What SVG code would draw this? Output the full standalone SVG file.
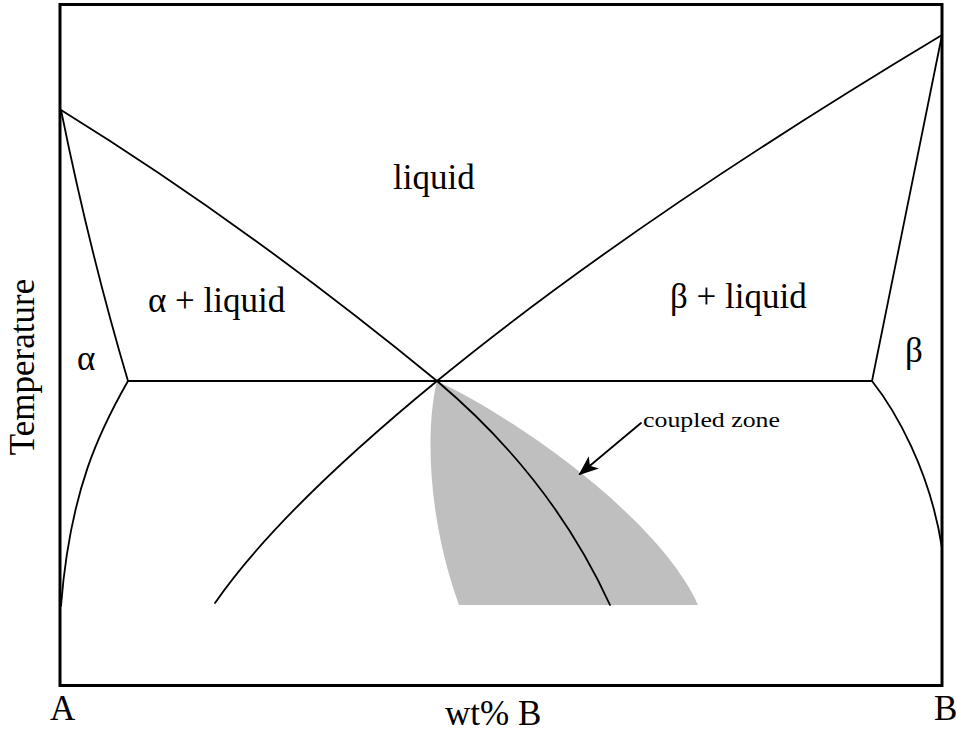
<svg xmlns="http://www.w3.org/2000/svg" width="956" height="732" viewBox="0 0 956 732">
<style>
  .ln { fill: none; stroke: #000; stroke-width: 1.8; stroke-linecap: round; stroke-linejoin: round; }
  .lbl { font-family: "Liberation Serif", "Times New Roman", serif; font-size: 35px; fill: #000; }
  .small { font-family: "Liberation Serif", "Times New Roman", serif; font-size: 22px; fill: #000; }
</style>
<defs>
  <marker id="ah" viewBox="0 0 20 16" refX="18" refY="8" markerWidth="20" markerHeight="16" markerUnits="userSpaceOnUse" orient="auto">
    <path d="M0,0 L20,8 L0,16 L5,8 Z" fill="#000"/>
  </marker>
</defs>
<rect width="956" height="732" fill="#fff"/>
<g id="coupled-zone-region">
  <path d="M437,381 C425,430 428,520 459,605 L698,605 C660,520 520,420 437,381 Z" fill="#bfbfbf"/>
</g>
<g id="frame">
  <rect x="60" y="4.5" width="882" height="681" fill="none" stroke="#000" stroke-width="3"/>
</g>
<g id="connectors">
  <path class="ln" d="M61,110 Q247,225 437,381"/>
  <path class="ln" d="M437,381 Q552,478 610,605"/>
  <path class="ln" d="M942,35 Q632,221 437,381"/>
  <path class="ln" d="M437,381 Q278.5,511 215,603"/>
  <path class="ln" d="M61,110 Q90,253 128,381"/>
  <path class="ln" d="M128,381 C100,430 70,490 61,606"/>
  <path class="ln" d="M942,35 L872,381"/>
  <path class="ln" d="M872,381 C895,410 930,470 942,548"/>
  <path class="ln" d="M128,381 L872,381"/>
  <path class="ln" d="M641,423 L580,474" stroke-width="1.5" marker-end="url(#ah)"/>
</g>
<g id="labels">
  <text class="lbl" x="393" y="189">liquid</text>
  <text class="lbl" x="148" y="312">α + liquid</text>
  <text class="lbl" x="670" y="308">β + liquid</text>
  <text class="lbl" x="77" y="370">α</text>
  <text class="lbl" x="905" y="362">β</text>
  <text class="small" x="643" y="427" textLength="137" lengthAdjust="spacingAndGlyphs">coupled zone</text>
  <text class="lbl" x="50" y="720" font-size="33">A</text>
  <text class="lbl" x="445" y="725" font-size="33">wt% B</text>
  <text class="lbl" x="934" y="720" font-size="33">B</text>
  <text class="lbl" font-size="33" text-anchor="middle" transform="translate(34,367) rotate(-90)">Temperature</text>
</g>
</svg>
